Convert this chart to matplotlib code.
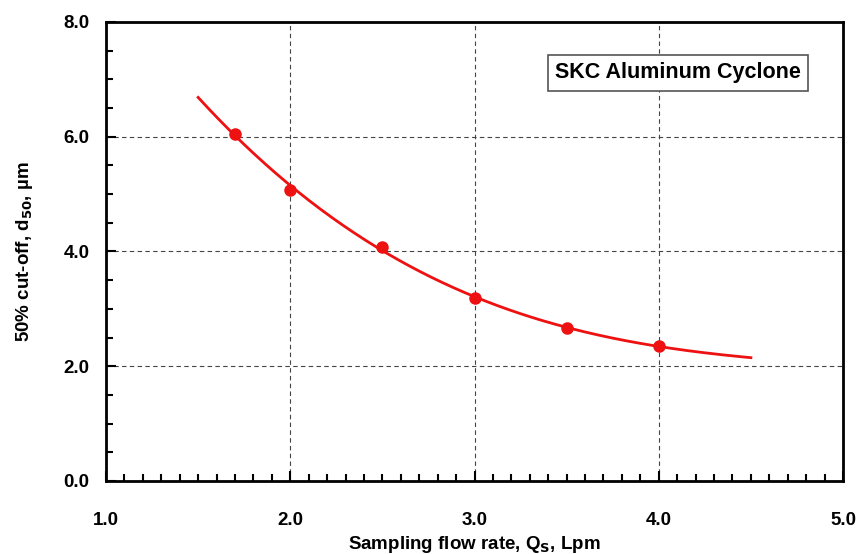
import matplotlib.pyplot as plt
import numpy as np
from matplotlib.ticker import MultipleLocator

plt.rcParams['font.family'] = ['Liberation Sans', 'DejaVu Sans']
plt.rcParams['font.weight'] = 'bold'
plt.rcParams['axes.labelweight'] = 'bold'

# measured points
flow = np.array([1.7, 2.0, 2.5, 3.0, 3.5, 4.0])
d50 = np.array([6.05, 5.08, 4.08, 3.19, 2.67, 2.35])

# cubic trend line through the points, drawn from 1.5 to 4.5 Lpm
coef = np.polyfit(flow, d50, 3)
q_fit = np.linspace(1.5, 4.5, 200)
d_fit = np.polyval(coef, q_fit)

fig = plt.figure(figsize=(8.57, 5.54), dpi=100)
ax = fig.add_axes([0.1237, 0.1318, 0.86, 0.8285])

ax.plot(q_fit, d_fit, color='#ee1111', lw=2)
ax.plot(flow, d50, 'o', color='#ee1111', ms=8)

ax.set_xlim(1.0, 5.0)
ax.set_ylim(0.0, 8.0)
ax.xaxis.set_major_locator(MultipleLocator(1.0))
ax.xaxis.set_minor_locator(MultipleLocator(0.1))
ax.yaxis.set_major_locator(MultipleLocator(2.0))
ax.yaxis.set_minor_locator(MultipleLocator(0.5))
ax.xaxis.set_major_formatter(plt.FormatStrFormatter('%.1f'))
ax.yaxis.set_major_formatter(plt.FormatStrFormatter('%.1f'))

ax.tick_params(which='both', direction='in', width=1.5, labelsize=13.5)
ax.tick_params(which='major', length=7)
ax.tick_params(which='minor', length=5)
ax.tick_params(axis='x', which='major', pad=22)
ax.tick_params(axis='y', which='major', pad=12)
for s in ax.spines.values():
    s.set_linewidth(2)

ax.grid(True, which='major', ls=(0, (4, 3)), color='#444444', lw=0.8)

ax.set_xlabel('Sampling flow rate, Q$_\\mathbf{S}$, Lpm', fontsize=13.5, labelpad=4)
ax.set_ylabel('50% cut-off, d$_\\mathbf{50}$, \u00b5m', fontsize=13.5, labelpad=20)

ax.text(0.776, 0.889, 'SKC Aluminum Cyclone', transform=ax.transAxes,
        ha='center', va='center', fontsize=15.5,
        bbox=dict(boxstyle='square,pad=0.33', fc='white', ec='#555555', lw=1.2))

fig.savefig('out.png', dpi=100)
